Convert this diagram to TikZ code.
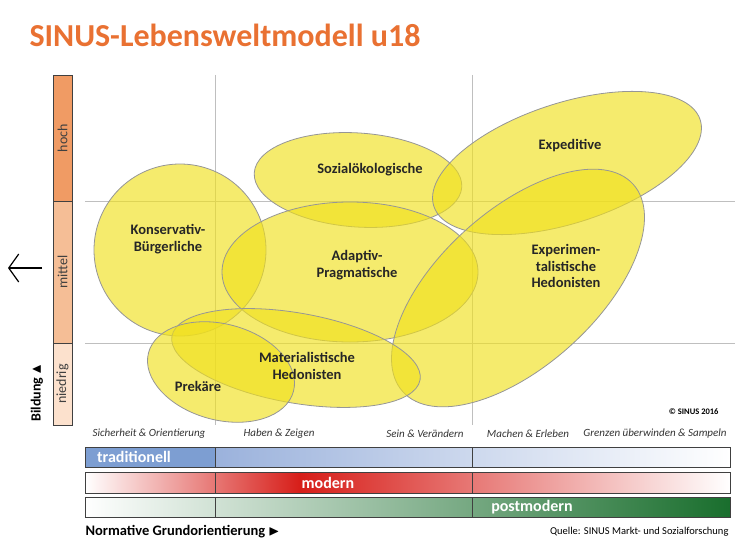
\documentclass[tikz,border=0pt]{standalone}
\usepackage{amssymb}
\usepackage{fontspec}
\setmainfont{Carlito}
\usetikzlibrary{arrows.meta}
\definecolor{blobline}{RGB}{150,150,150}
\definecolor{blobfill}{RGB}{240,224,30}
\definecolor{titleor}{RGB}{233,113,50}
\definecolor{hochc}{RGB}{240,155,100}
\definecolor{mittelc}{RGB}{245,190,150}
\definecolor{niedc}{RGB}{252,225,205}
\definecolor{tradA}{RGB}{125,158,210}
\definecolor{tradB}{RGB}{155,178,220}
\definecolor{modc}{RGB}{215,30,25}
\definecolor{postc}{RGB}{25,110,45}
\begin{document}
\begin{tikzpicture}[x=1pt,y=-1pt,
 blob/.style={draw=blobline,line width=0.8pt,fill=blobfill,fill opacity=0.65},
 lbl/.style={font=\bfseries\fontsize{14.5}{16.5}\selectfont,align=center,text=black!85},
 ax/.style={font=\itshape\fontsize{11}{13}\selectfont,text=black!80},
 grid/.style={draw=black!25,line width=0.6pt},
 barb/.style={draw=black!75,line width=0.8pt},
 side/.style={rotate=90,font=\fontsize{14}{16}\selectfont,text=black!75},
 bart/.style={text=white,font=\bfseries\fontsize{16}{18}\selectfont}]
\useasboundingbox (0,0) rectangle (743,548);
\node[anchor=west,text=titleor,font=\bfseries\fontsize{32}{36}\selectfont] (title) at (26,35) {SINUS-Lebensweltmodell u18};
% grid
\draw[grid] (215,75) -- (215,425);
\draw[grid] (472,75) -- (472,425);
\draw[grid] (85,201) -- (735,201);
\draw[grid] (85,343) -- (735,343);
% bildung bar
\node[barb,fill=hochc,minimum width=19pt,minimum height=126pt,inner sep=0] (hoch) at (62.5,138) {};
\node[barb,fill=mittelc,minimum width=19pt,minimum height=142pt,inner sep=0] (mittel) at (62.5,272) {};
\node[barb,fill=niedc,minimum width=19pt,minimum height=82pt,inner sep=0] (niedrig) at (62.5,384) {};
\node[side] at (hoch) {hoch};
\node[side] at (mittel) {mittel};
\node[side] at (niedrig) {niedrig};
\node[rotate=90,font=\bfseries\fontsize{14}{16}\selectfont,anchor=west] (bild) at (37,425) {Bildung $\blacktriangle$};
\coordinate (arrR) at (42,268); \coordinate (arrL) at (8,268);
\draw[-{Straight Barb[length=10pt,width=28pt]},line width=1.2pt] (arrR) -- (arrL);
% blobs
\path[blob] (180,250) ellipse [x radius=86,y radius=86];
\path[blob,rotate around={-4:(358,180)}] (358,180) ellipse [x radius=104,y radius=47];
\path[blob,rotate around={18:(567,163)}] (567,163) ellipse [x radius=140,y radius=60];
\path[blob] (350,272) ellipse [x radius=128,y radius=70];
\path[blob,rotate around={42:(518,288)}] (518,288) ellipse [x radius=155,y radius=78];
\path[blob,rotate around={-10:(296,358)}] (296,358) ellipse [x radius=126,y radius=45];
\path[blob,rotate around={-15:(221,372)}] (221,372) ellipse [x radius=75,y radius=48];
\node[lbl] (kb) at (168,239) {Konservativ-\\Bürgerliche};
\node[lbl] (so) at (370,170) {Sozialökologische};
\node[lbl] (ex) at (570,146) {Expeditive};
\node[lbl] (ap) at (357,265) {Adaptiv-\\Pragmatische};
\node[lbl] (eh) at (566,266) {Experimen-\\talistische\\Hedonisten};
\node[lbl] (mh) at (307,366) {Materialistische\\Hedonisten};
\node[lbl] (pr) at (198,386) {Prekäre};
\node[font=\bfseries\fontsize{8.5}{10}\selectfont,anchor=east] (copy) at (722,412) {© SINUS 2016};
% axis labels
\node[ax] (a1) at (149,434) {Sicherheit \& Orientierung};
\node[ax] (a2) at (279,434) {Haben \& Zeigen};
\node[ax] (a3) at (425,434) {Sein \& Verändern};
\node[ax] (a4) at (528,434) {Machen \& Erleben};
\node[ax] (a5) at (655,434) {Grenzen überwinden \& Sampeln};
% bars
\shade[left color=tradB,right color=white] (215,447) rectangle (730,467);
\fill[tradA] (85,447) rectangle (215,467);
\draw[barb] (85,447) rectangle (730,467) (215,447) -- (215,467) (472,447) -- (472,467);
\shade[left color=white,right color=modc] (85,472) rectangle (300,493);
\shade[left color=modc,right color=white] (300,472) rectangle (730,493);
\draw[barb] (85,472) rectangle (730,493) (215,472) -- (215,493) (472,472) -- (472,493);
\shade[left color=white,right color=postc] (85,497) rectangle (730,517);
\draw[barb] (85,497) rectangle (730,517) (215,497) -- (215,517) (472,497) -- (472,517);
\node[bart] (trad) at (134,457) {traditionell};
\node[bart] (mod) at (328,483) {modern};
\node[bart] (post) at (532,507) {postmodern};
\node[anchor=west,font=\bfseries\fontsize{14.5}{16}\selectfont] (norm) at (82,532) {Normative Grundorientierung $\blacktriangleright$};
\node[anchor=east,font=\fontsize{10.5}{12}\selectfont] (src) at (732,532) {Quelle: SINUS Markt- und Sozialforschung};
\end{tikzpicture}
\end{document}
